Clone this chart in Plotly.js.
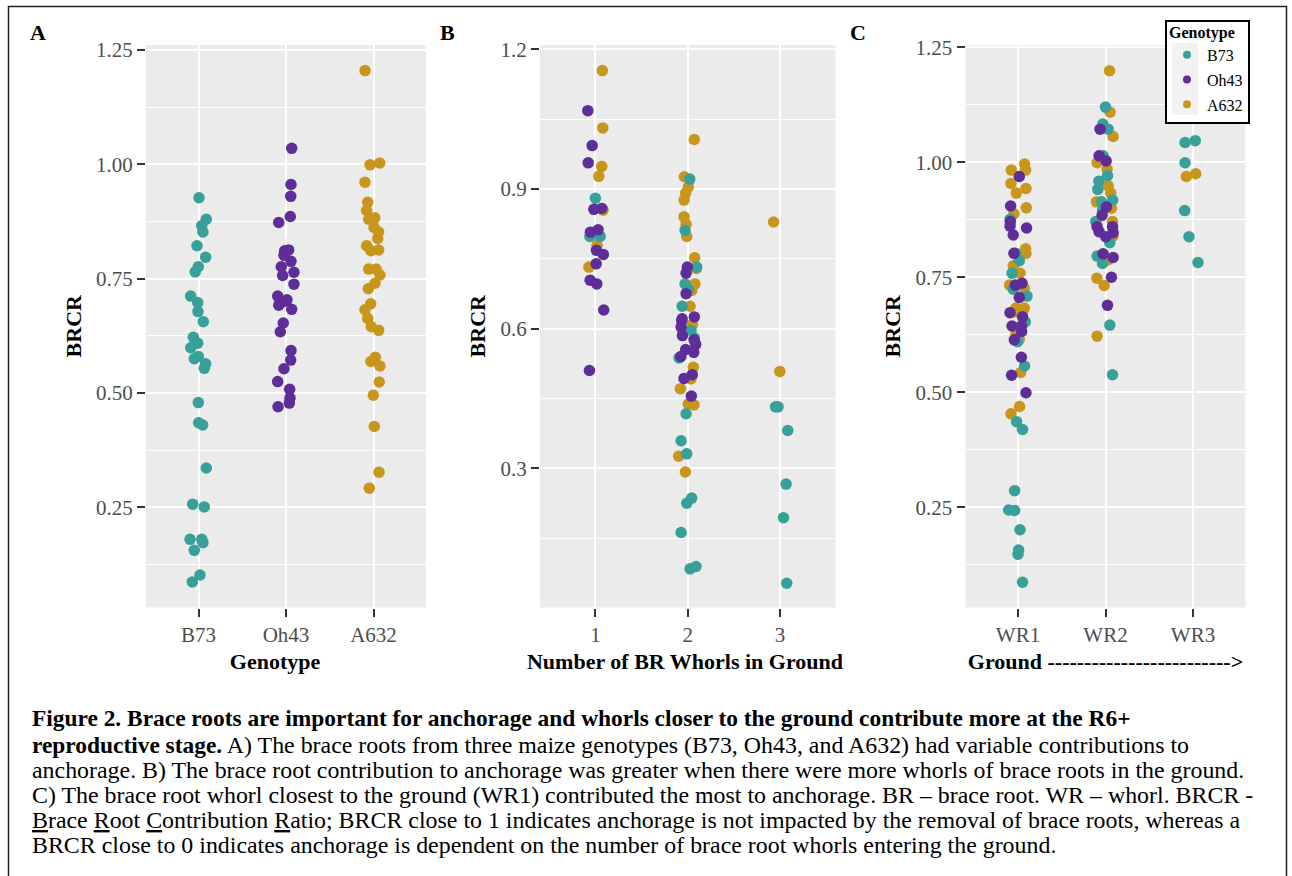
<!DOCTYPE html>
<html>
<head>
<meta charset="utf-8">
<script src="https://cdn.plot.ly/plotly-3.0.1.min.js"></script>
<style>
html,body{margin:0;padding:0;background:#fff;}
#chart{width:1292px;height:876px;}
</style>
</head>
<body>
<div id="chart"></div>
<script>
// ---------- DATA ----------
const genotypes = ['B73', 'Oh43', 'A632'];
const whorlCounts = [1, 2, 3];
const whorlLabels = ['WR1', 'WR2', 'WR3'];

// Panel A: BRCR by genotype (jitter = horizontal offset, in category units)
const a_B73_brcr = [0.927,0.880,0.866,0.852,0.822,0.797,0.776,0.765,0.712,0.698,0.678,0.656,0.622,0.609,0.599,0.580,0.575,0.564,0.554,0.479,0.435,0.430,0.336,0.257,0.251,0.180,0.180,0.173,0.156,0.102,0.087];
const a_B73_jitter = [0.006,0.089,0.037,0.051,-0.017,0.082,-0.002,-0.037,-0.089,-0.009,-0.006,0.055,-0.059,-0.009,-0.089,-0.002,-0.048,0.082,0.066,-0.002,0.002,0.048,0.089,-0.066,0.066,-0.097,0.037,0.051,-0.048,0.017,-0.071];
const a_Oh43_brcr = [1.035,0.956,0.930,0.886,0.873,0.813,0.811,0.801,0.788,0.776,0.764,0.757,0.738,0.712,0.704,0.700,0.692,0.683,0.653,0.634,0.593,0.572,0.553,0.525,0.508,0.489,0.478,0.470];
const a_Oh43_jitter = [0.065,0.057,0.054,0.049,-0.083,0.031,-0.015,-0.023,0.057,-0.054,0.091,-0.038,0.091,-0.095,0.011,-0.023,-0.083,0.065,-0.031,-0.065,0.057,0.054,-0.023,-0.095,0.042,0.046,0.038,-0.091];
const a_A632_brcr = [1.205,0.999,1.003,0.961,0.917,0.899,0.883,0.880,0.862,0.852,0.838,0.822,0.811,0.813,0.771,0.771,0.758,0.740,0.728,0.695,0.682,0.663,0.645,0.637,0.578,0.569,0.559,0.524,0.495,0.427,0.327,0.292];
const a_A632_jitter = [-0.097,-0.040,0.071,-0.097,-0.066,-0.078,0.014,-0.055,0.006,0.059,0.048,-0.078,-0.029,0.059,-0.055,0.029,0.074,0.017,-0.059,-0.032,-0.097,-0.066,-0.025,0.059,0.021,-0.029,0.074,0.066,-0.002,0.009,0.063,-0.048];

// Panel B: BRCR by number of brace-root whorls in ground
const b_B73_whorls = [1,1,1, 2,2,2,2,2,2,2,2,2,2,2,2,2,2,2,2,2, 3,3,3,3,3,3];
const b_B73_brcr = [0.880,0.798,0.798, 0.921,0.811,0.732,0.696,0.684,0.648,0.596,0.580,0.537,0.417,0.359,0.331,0.236,0.225,0.162,0.089,0.084, 0.432,0.432,0.381,0.266,0.194,0.053];
const b_B73_jitter = [0.000,-0.060,0.051, 0.022,-0.029,0.097,-0.029,0.006,-0.061,0.035,0.071,-0.094,-0.018,-0.072,-0.011,0.043,-0.011,-0.072,0.089,0.025, -0.049,-0.022,0.083,0.065,0.037,0.072];
const b_Oh43_whorls = [1,1,1,1,1,1,1,1,1,1,1,1,1,1, 2,2,2,2,2,2,2,2,2,2,2,2,2,2,2,2];
const b_Oh43_brcr = [1.068,0.993,0.956,0.856,0.858,0.807,0.812,0.768,0.759,0.739,0.704,0.696,0.640,0.510, 0.732,0.719,0.675,0.621,0.625,0.617,0.603,0.585,0.576,0.566,0.555,0.549,0.540,0.501,0.493,0.455];
const b_Oh43_jitter = [-0.082,-0.035,-0.078,-0.017,0.069,-0.054,0.029,0.011,0.086,0.008,-0.057,0.015,0.090,-0.065, -0.004,-0.018,-0.018,-0.061,0.071,-0.065,-0.072,-0.058,0.068,0.086,-0.022,0.065,-0.075,0.049,-0.040,0.039];
const b_A632_whorls = [1,1,1,1,1,1,1, 2,2,2,2,2,2,2,2,2,2,2,2,2,2,2,2,2,2,2,2,2, 3,3];
const b_A632_brcr = [1.154,1.031,0.948,0.927,0.854,0.779,0.732, 1.006,0.926,0.904,0.891,0.876,0.840,0.824,0.798,0.752,0.729,0.696,0.682,0.648,0.609,0.517,0.492,0.471,0.438,0.436,0.326,0.292, 0.829,0.508];
const b_A632_jitter = [0.075,0.080,0.069,0.037,0.083,0.018,-0.071, 0.071,-0.037,0.006,-0.022,-0.040,-0.040,-0.018,-0.011,0.075,0.092,0.078,0.043,0.025,0.050,0.060,0.035,-0.080,0.006,0.068,-0.098,-0.026, -0.071,-0.003];

// Panel C: BRCR by whorl (WR1 closest to ground)
const c_B73_whorl = ['WR1','WR1','WR1','WR1','WR1','WR1','WR1','WR1','WR1','WR1','WR1','WR1','WR1','WR1','WR1','WR1','WR1','WR1', 'WR2','WR2','WR2','WR2','WR2','WR2','WR2','WR2','WR2','WR2','WR2','WR2','WR2','WR2','WR2','WR2', 'WR3','WR3','WR3','WR3','WR3','WR3'];
const c_B73_brcr = [0.876,0.802,0.786,0.759,0.724,0.709,0.653,0.610,0.557,0.436,0.419,0.286,0.244,0.243,0.201,0.157,0.148,0.087, 1.120,1.083,1.072,1.014,0.971,0.959,0.941,0.918,0.914,0.895,0.871,0.825,0.796,0.780,0.646,0.538, 1.043,1.047,0.999,0.895,0.838,0.782];
const c_B73_jitter = [-0.091,-0.027,0.015,-0.068,-0.054,0.103,0.083,-0.005,0.075,-0.016,0.052,-0.039,-0.107,-0.039,0.023,0.007,0.000,0.052, 0.000,-0.031,0.030,-0.027,0.023,-0.076,-0.088,0.083,-0.046,-0.034,-0.111,0.049,-0.096,-0.034,0.049,0.080, -0.091,0.026,-0.091,-0.095,-0.046,0.057];
const c_Oh43_whorl = ['WR1','WR1','WR1','WR1','WR1','WR1','WR1','WR1','WR1','WR1','WR1','WR1','WR1','WR1','WR1','WR1','WR1','WR1','WR1', 'WR2','WR2','WR2','WR2','WR2','WR2','WR2','WR2','WR2','WR2','WR2','WR2','WR2','WR2'];
const c_Oh43_brcr = [0.969,0.905,0.871,0.861,0.857,0.842,0.802,0.737,0.733,0.706,0.673,0.664,0.644,0.644,0.632,0.614,0.576,0.537,0.499, 1.072,1.014,1.003,0.903,0.885,0.860,0.860,0.849,0.838,0.847,0.801,0.793,0.750,0.689];
const c_Oh43_jitter = [0.015,-0.084,-0.088,-0.091,0.098,-0.054,-0.046,0.046,-0.031,0.015,-0.091,0.052,-0.068,0.038,0.041,-0.042,0.038,-0.073,0.091, -0.062,-0.073,0.007,0.011,-0.039,-0.096,0.080,-0.073,0.003,0.087,-0.027,0.087,0.068,0.023];
const c_A632_whorl = ['WR1','WR1','WR1','WR1','WR1','WR1','WR1','WR1','WR1','WR1','WR1','WR1','WR1','WR1','WR1','WR1','WR1','WR1','WR1','WR1','WR1','WR1','WR1', 'WR2','WR2','WR2','WR2','WR2','WR2','WR2','WR2','WR2','WR2','WR2','WR2','WR2','WR2','WR2', 'WR3','WR3'];
const c_A632_brcr = [0.983,0.996,0.983,0.954,0.933,0.943,0.901,0.888,0.812,0.802,0.775,0.759,0.733,0.726,0.683,0.683,0.675,0.679,0.626,0.615,0.543,0.469,0.453, 1.199,1.109,1.056,0.999,0.985,0.949,0.933,0.914,0.900,0.871,0.840,0.788,0.748,0.732,0.622, 0.969,0.975];
const c_A632_jitter = [-0.076,0.075,0.087,-0.080,-0.019,0.091,0.095,-0.046,0.087,0.091,-0.054,0.023,-0.096,0.072,-0.023,0.072,-0.042,0.060,-0.023,0.015,0.030,0.018,-0.080, 0.046,0.052,0.087,-0.096,0.018,0.030,0.060,-0.103,0.068,0.080,0.087,0.030,-0.099,-0.016,-0.096, -0.076,0.031];

// ---------- STYLE ----------
const colorOf = {B73: '#37A09A', Oh43: '#5E2D98', A632: '#C8961B'};
const FONT = 'Liberation Serif, Times New Roman, serif';
const W = 1292, H = 876;
const px = v => v / W;
const py = v => 1 - v / H;
const MS = 11.5;

function pts(xcat, jit, ys, g, xa, ya) {
  return {
    type: 'scatter', mode: 'markers',
    x: xcat.map((c, i) => c + jit[i]), y: ys,
    xaxis: xa, yaxis: ya, name: g, showlegend: false, hoverinfo: 'y',
    marker: {color: colorOf[g], size: MS, line: {width: 0}}
  };
}
const rep = (v, n) => Array.from({length: n}, () => v);

const drawOrder = ['A632', 'B73', 'Oh43'];
const A = {B73: [a_B73_brcr, a_B73_jitter], Oh43: [a_Oh43_brcr, a_Oh43_jitter], A632: [a_A632_brcr, a_A632_jitter]};
const B = {B73: [b_B73_whorls, b_B73_brcr, b_B73_jitter], Oh43: [b_Oh43_whorls, b_Oh43_brcr, b_Oh43_jitter], A632: [b_A632_whorls, b_A632_brcr, b_A632_jitter]};
const C = {B73: [c_B73_whorl, c_B73_brcr, c_B73_jitter], Oh43: [c_Oh43_whorl, c_Oh43_brcr, c_Oh43_jitter], A632: [c_A632_whorl, c_A632_brcr, c_A632_jitter]};

const traces = [];
drawOrder.forEach(g => {
  const [ys, jit] = A[g];
  traces.push(pts(rep(genotypes.indexOf(g), ys.length), jit, ys, g, 'x', 'y'));
});
drawOrder.forEach(g => {
  const [wh, ys, jit] = B[g];
  traces.push(pts(wh, jit, ys, g, 'x2', 'y2'));
});
drawOrder.forEach(g => {
  const [wh, ys, jit] = C[g];
  traces.push(pts(wh.map(w => whorlLabels.indexOf(w)), jit, ys, g, 'x3', 'y3'));
});
// legend entries
genotypes.forEach(g => traces.push({
  type: 'scatter', mode: 'markers', x: [null], y: [null], xaxis: 'x3', yaxis: 'y3',
  name: g, legendgroup: g, showlegend: true, marker: {color: colorOf[g], size: 8}
}));

const common = {
  showgrid: true, gridcolor: '#FFFFFF', gridwidth: 2, zeroline: false, showline: false,
  ticks: 'outside', ticklen: 8, tickwidth: 2, tickcolor: '#333333',
  tickfont: {family: FONT, size: 21, color: '#4D4D4D'}, fixedrange: true
};
const ydom = [py(607.5), py(45)];
function yax(range, dtick, fmt, anchor) {
  return Object.assign({}, common, {
    domain: ydom, anchor: anchor, range: range, tickmode: 'linear', tick0: 0, dtick: dtick, tickformat: fmt,
    minor: {dtick: dtick / 2, tick0: 0, showgrid: true, gridcolor: '#FFFFFF', gridwidth: 1, ticks: ''},
    title: {text: '<b>BRCR</b>', font: {family: FONT, size: 22, color: '#000'}, standoff: 8}
  });
}
function xax(dom, range, vals, text, title, anchor) {
  return Object.assign({}, common, {
    domain: dom, anchor: anchor, range: range, tickmode: 'array', tickvals: vals, ticktext: text,
    title: {text: title, font: {family: FONT, size: 22, color: '#000'}, standoff: 7}
  });
}

const BS = '<span style="font-size:23.4px">';
const caption = [
  BS + '<b>Figure 2. Brace roots are important for anchorage and whorls closer to the ground contribute more at the R6+</b></span>',
  BS + '<b>reproductive stage.</b></span> A) The brace roots from three maize genotypes (B73, Oh43, and A632) had variable contributions to',
  'anchorage. B) The brace root contribution to anchorage was greater when there were more whorls of brace roots in the ground.',
  'C) The brace root whorl closest to the ground (WR1) contributed the most to anchorage. BR \u2013 brace root. WR \u2013 whorl. BRCR -',
  '<u>B</u>race <u>R</u>oot <u>C</u>ontribution <u>R</u>atio; BRCR close to 1 indicates anchorage is not impacted by the removal of brace roots, whereas a',
  'BRCR close to 0 indicates anchorage is dependent on the number of brace root whorls entering the ground.'
];
const captionY = [718, 745, 770, 795, 820, 845];

const annotations = [
  ['A', 38], ['B', 447], ['C', 858]
].map(([t, x]) => ({
  text: '<b>' + t + '</b>', xref: 'paper', yref: 'paper', x: px(x), y: py(32), xanchor: 'center', yanchor: 'middle',
  showarrow: false, font: {family: FONT, size: 22, color: '#000'}
}));
caption.forEach((t, i) => annotations.push({
  text: t, xref: 'paper', yref: 'paper', x: px(30), y: py(captionY[i]), xanchor: 'left', yanchor: 'middle',
  align: 'left', showarrow: false, font: {family: FONT, size: 23.9, color: '#000'}
}));

const shapes = [
  {type: 'rect', xref: 'paper', yref: 'paper', x0: px(8.5), x1: px(1286.5), y0: py(890), y1: py(6.5),
   line: {color: '#222', width: 1.5}, fillcolor: 'rgba(0,0,0,0)', layer: 'below'},
  {type: 'rect', xref: 'paper', yref: 'paper', x0: px(1166), x1: px(1249), y0: py(123), y1: py(21),
   line: {color: '#000', width: 2}, fillcolor: '#FFFFFF', layer: 'above'},
  {type: 'rect', xref: 'paper', yref: 'paper', x0: px(1172), x1: px(1198), y0: py(115), y1: py(43),
   line: {width: 0}, fillcolor: '#F2F2F2', layer: 'above'}
];

const layout = {
  width: W, height: H, margin: {l: 0, r: 0, t: 0, b: 0},
  paper_bgcolor: '#FFFFFF', plot_bgcolor: '#EBEBEB',
  font: {family: FONT, color: '#000'},
  showlegend: true,
  legend: {
    x: px(1167), y: py(17), xanchor: 'left', yanchor: 'top', traceorder: 'grouped',
    bgcolor: 'rgba(0,0,0,0)', borderwidth: 0, font: {family: FONT, size: 16, color: '#000'},
    title: {text: '<b>Genotype</b>', font: {family: FONT, size: 16, color: '#000'}},
    itemwidth: 30, tracegroupgap: 1
  },
  xaxis: xax([px(146), px(426)], [-0.6, 2.6], [0, 1, 2], genotypes, '<b>Genotype</b>&nbsp;&nbsp;&nbsp;&nbsp;', 'y'),
  yaxis: yax([0.031, 1.261], 0.25, '.2f', 'x'),
  xaxis2: xax([px(540), px(835.5)], [0.4, 3.6], whorlCounts, whorlCounts.map(String), '<b>Number of BR Whorls in Ground</b>&nbsp;', 'y2'),
  yaxis2: yax([0.001, 1.209], 0.3, '.1f', 'x2'),
  xaxis3: xax([px(965.5), px(1245.5)], [-0.6, 2.6], [0, 1, 2], whorlLabels, '<b>Ground -------------------------&gt;</b>', 'y3'),
  yaxis3: yax([0.032, 1.255], 0.25, '.2f', 'x3'),
  annotations: annotations,
  shapes: shapes
};

Plotly.newPlot('chart', traces, layout, {displayModeBar: false, staticPlot: true});
</script>
</body>
</html>
